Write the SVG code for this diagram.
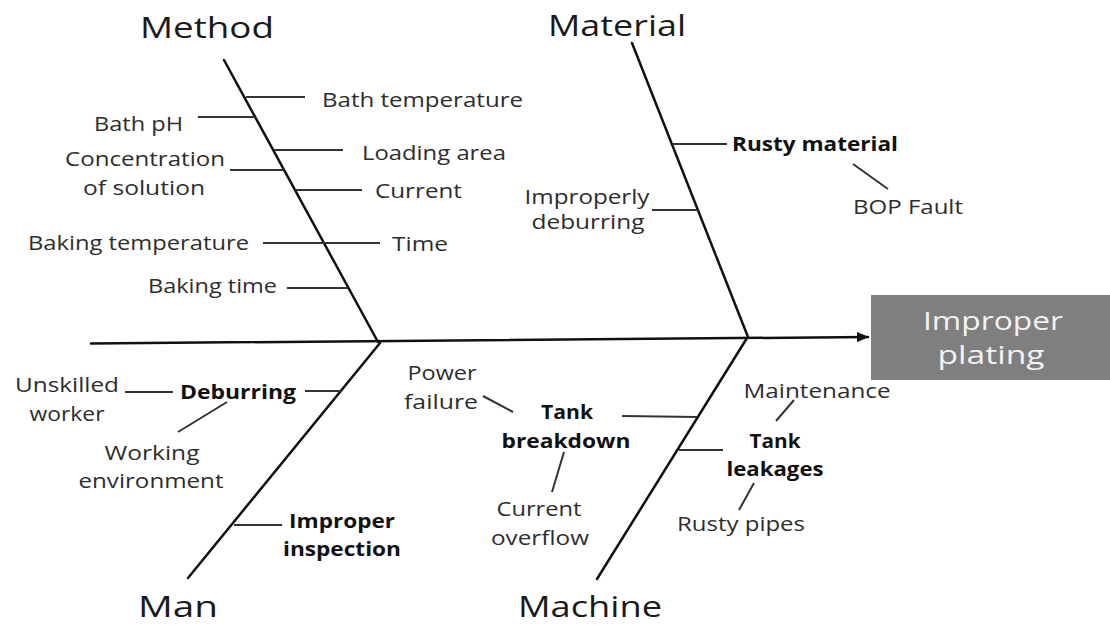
<svg xmlns="http://www.w3.org/2000/svg" width="1110" height="626" viewBox="0 0 1110 626">
<defs>
<style>
.lbl{font-family:"Open Sans","Liberation Sans",Arial,sans-serif;font-size:20px;fill:#2d2d2d}
.b{font-weight:bold;fill:#111}
.ttl{font-family:"Open Sans","Liberation Sans",Arial,sans-serif;font-size:29px;fill:#1a1a1a}
.box{font-family:"Open Sans","Liberation Sans",Arial,sans-serif;font-size:25px;fill:#f2f2f2}
.bone{stroke:#111;stroke-width:2.5;fill:none;stroke-linecap:round}
.br{stroke:#333;stroke-width:2;fill:none}
</style>
<marker id="arr" viewBox="0 0 12 10" refX="11" refY="5" markerWidth="12" markerHeight="10" markerUnits="userSpaceOnUse" orient="auto">
<path d="M0,0 L12,5 L0,10 Z" fill="#111"/>
</marker>
</defs>
<rect width="1110" height="626" fill="#fff"/>

<g id="connectors">
<line class="bone" x1="91" y1="343.5" x2="868" y2="337" stroke-width="3" marker-end="url(#arr)"/>
<line class="bone" x1="224" y1="60" x2="378" y2="342"/>
<line class="bone" x1="632" y1="43" x2="748" y2="337"/>
<line class="bone" x1="380" y1="343" x2="188" y2="578"/>
<line class="bone" x1="747" y1="338" x2="597" y2="579"/>
<!-- method -->
<line class="br" x1="246" y1="97" x2="305" y2="97"/>
<line class="br" x1="198" y1="117" x2="255" y2="117"/>
<line class="br" x1="274" y1="150" x2="343" y2="150"/>
<line class="br" x1="230" y1="170" x2="284" y2="170"/>
<line class="br" x1="295" y1="190" x2="362" y2="190"/>
<line class="br" x1="263" y1="243" x2="380" y2="243"/>
<line class="br" x1="287" y1="288" x2="348" y2="288"/>
<!-- material -->
<line class="br" x1="672" y1="144" x2="727" y2="144"/>
<line class="br" x1="652" y1="210" x2="698" y2="210"/>
<line class="br" x1="853" y1="164" x2="888" y2="189"/>
<!-- man -->
<line class="br" x1="305" y1="391" x2="341" y2="391"/>
<line class="br" x1="125" y1="392" x2="173" y2="392"/>
<line class="br" x1="178" y1="432" x2="227" y2="402"/>
<line class="br" x1="234" y1="525" x2="282" y2="525"/>
<!-- machine -->
<line class="br" x1="483" y1="396" x2="513" y2="412"/>
<line class="br" x1="622" y1="416" x2="697" y2="417"/>
<line class="br" x1="564" y1="452" x2="552" y2="492"/>
<line class="br" x1="679" y1="450" x2="723" y2="450"/>
<line class="br" x1="794" y1="400" x2="776" y2="421"/>
<line class="br" x1="754" y1="483" x2="739" y2="510"/>
</g>

<g id="effect">
<rect x="871" y="295" width="239" height="85" fill="#7f7f7f"/>
<text class="box" x="993" y="330" text-anchor="middle" textLength="140" lengthAdjust="spacingAndGlyphs">Improper</text>
<text class="box" x="991" y="364" text-anchor="middle" textLength="107" lengthAdjust="spacingAndGlyphs">plating</text>
</g>

<g id="method">
<text class="ttl" x="140" y="38" textLength="134" lengthAdjust="spacingAndGlyphs">Method</text>
</g>
<g id="bath-temperature"><text class="lbl" x="322" y="107" textLength="201" lengthAdjust="spacingAndGlyphs">Bath temperature</text></g>
<g id="bath-ph"><text class="lbl" x="94" y="131" textLength="89" lengthAdjust="spacingAndGlyphs">Bath pH</text></g>
<g id="loading-area"><text class="lbl" x="362" y="160" textLength="144" lengthAdjust="spacingAndGlyphs">Loading area</text></g>
<g id="concentration">
<text class="lbl" x="145" y="166" text-anchor="middle" textLength="160" lengthAdjust="spacingAndGlyphs">Concentration</text>
<text class="lbl" x="144" y="195" text-anchor="middle" textLength="122" lengthAdjust="spacingAndGlyphs">of solution</text>
</g>
<g id="current"><text class="lbl" x="375" y="198" textLength="87" lengthAdjust="spacingAndGlyphs">Current</text></g>
<g id="baking-temperature"><text class="lbl" x="28" y="250" textLength="221" lengthAdjust="spacingAndGlyphs">Baking temperature</text></g>
<g id="time"><text class="lbl" x="392" y="251" textLength="56" lengthAdjust="spacingAndGlyphs">Time</text></g>
<g id="baking-time"><text class="lbl" x="148" y="293" textLength="129" lengthAdjust="spacingAndGlyphs">Baking time</text></g>

<g id="material">
<text class="ttl" x="548" y="36" textLength="138" lengthAdjust="spacingAndGlyphs">Material</text>
</g>
<g id="rusty-material"><text class="lbl b" x="732" y="151" textLength="166" lengthAdjust="spacingAndGlyphs">Rusty material</text></g>
<g id="bop-fault"><text class="lbl" x="853" y="214" textLength="110" lengthAdjust="spacingAndGlyphs">BOP Fault</text></g>
<g id="improperly-deburring">
<text class="lbl" x="587" y="204" text-anchor="middle" textLength="125" lengthAdjust="spacingAndGlyphs">Improperly</text>
<text class="lbl" x="588" y="229" text-anchor="middle" textLength="113" lengthAdjust="spacingAndGlyphs">deburring</text>
</g>

<g id="man">
<text class="ttl" x="178" y="617" text-anchor="middle" textLength="80" lengthAdjust="spacingAndGlyphs">Man</text>
</g>
<g id="deburring"><text class="lbl b" x="238" y="399" text-anchor="middle" textLength="116" lengthAdjust="spacingAndGlyphs">Deburring</text></g>
<g id="unskilled-worker">
<text class="lbl" x="67" y="392" text-anchor="middle" textLength="104" lengthAdjust="spacingAndGlyphs">Unskilled</text>
<text class="lbl" x="67" y="421" text-anchor="middle" textLength="75" lengthAdjust="spacingAndGlyphs">worker</text>
</g>
<g id="working-environment">
<text class="lbl" x="152" y="460" text-anchor="middle" textLength="95" lengthAdjust="spacingAndGlyphs">Working</text>
<text class="lbl" x="151" y="488" text-anchor="middle" textLength="145" lengthAdjust="spacingAndGlyphs">environment</text>
</g>
<g id="improper-inspection">
<text class="lbl b" x="342" y="528" text-anchor="middle" textLength="106" lengthAdjust="spacingAndGlyphs">Improper</text>
<text class="lbl b" x="342" y="556" text-anchor="middle" textLength="118" lengthAdjust="spacingAndGlyphs">inspection</text>
</g>

<g id="machine">
<text class="ttl" x="590" y="617" text-anchor="middle" textLength="144" lengthAdjust="spacingAndGlyphs">Machine</text>
</g>
<g id="power-failure">
<text class="lbl" x="442" y="380" text-anchor="middle" textLength="69" lengthAdjust="spacingAndGlyphs">Power</text>
<text class="lbl" x="441" y="409" text-anchor="middle" textLength="74" lengthAdjust="spacingAndGlyphs">failure</text>
</g>
<g id="tank-breakdown">
<text class="lbl b" x="567" y="419" text-anchor="middle" textLength="52" lengthAdjust="spacingAndGlyphs">Tank</text>
<text class="lbl b" x="566" y="448" text-anchor="middle" textLength="129" lengthAdjust="spacingAndGlyphs">breakdown</text>
</g>
<g id="current-overflow">
<text class="lbl" x="539" y="516" text-anchor="middle" textLength="85" lengthAdjust="spacingAndGlyphs">Current</text>
<text class="lbl" x="540" y="545" text-anchor="middle" textLength="98" lengthAdjust="spacingAndGlyphs">overflow</text>
</g>
<g id="tank-leakages">
<text class="lbl b" x="775" y="448" text-anchor="middle" textLength="51" lengthAdjust="spacingAndGlyphs">Tank</text>
<text class="lbl b" x="775" y="476" text-anchor="middle" textLength="97" lengthAdjust="spacingAndGlyphs">leakages</text>
</g>
<g id="maintenance"><text class="lbl" x="817" y="398" text-anchor="middle" textLength="147" lengthAdjust="spacingAndGlyphs">Maintenance</text></g>
<g id="rusty-pipes"><text class="lbl" x="741" y="531" text-anchor="middle" textLength="128" lengthAdjust="spacingAndGlyphs">Rusty pipes</text></g>
</svg>
